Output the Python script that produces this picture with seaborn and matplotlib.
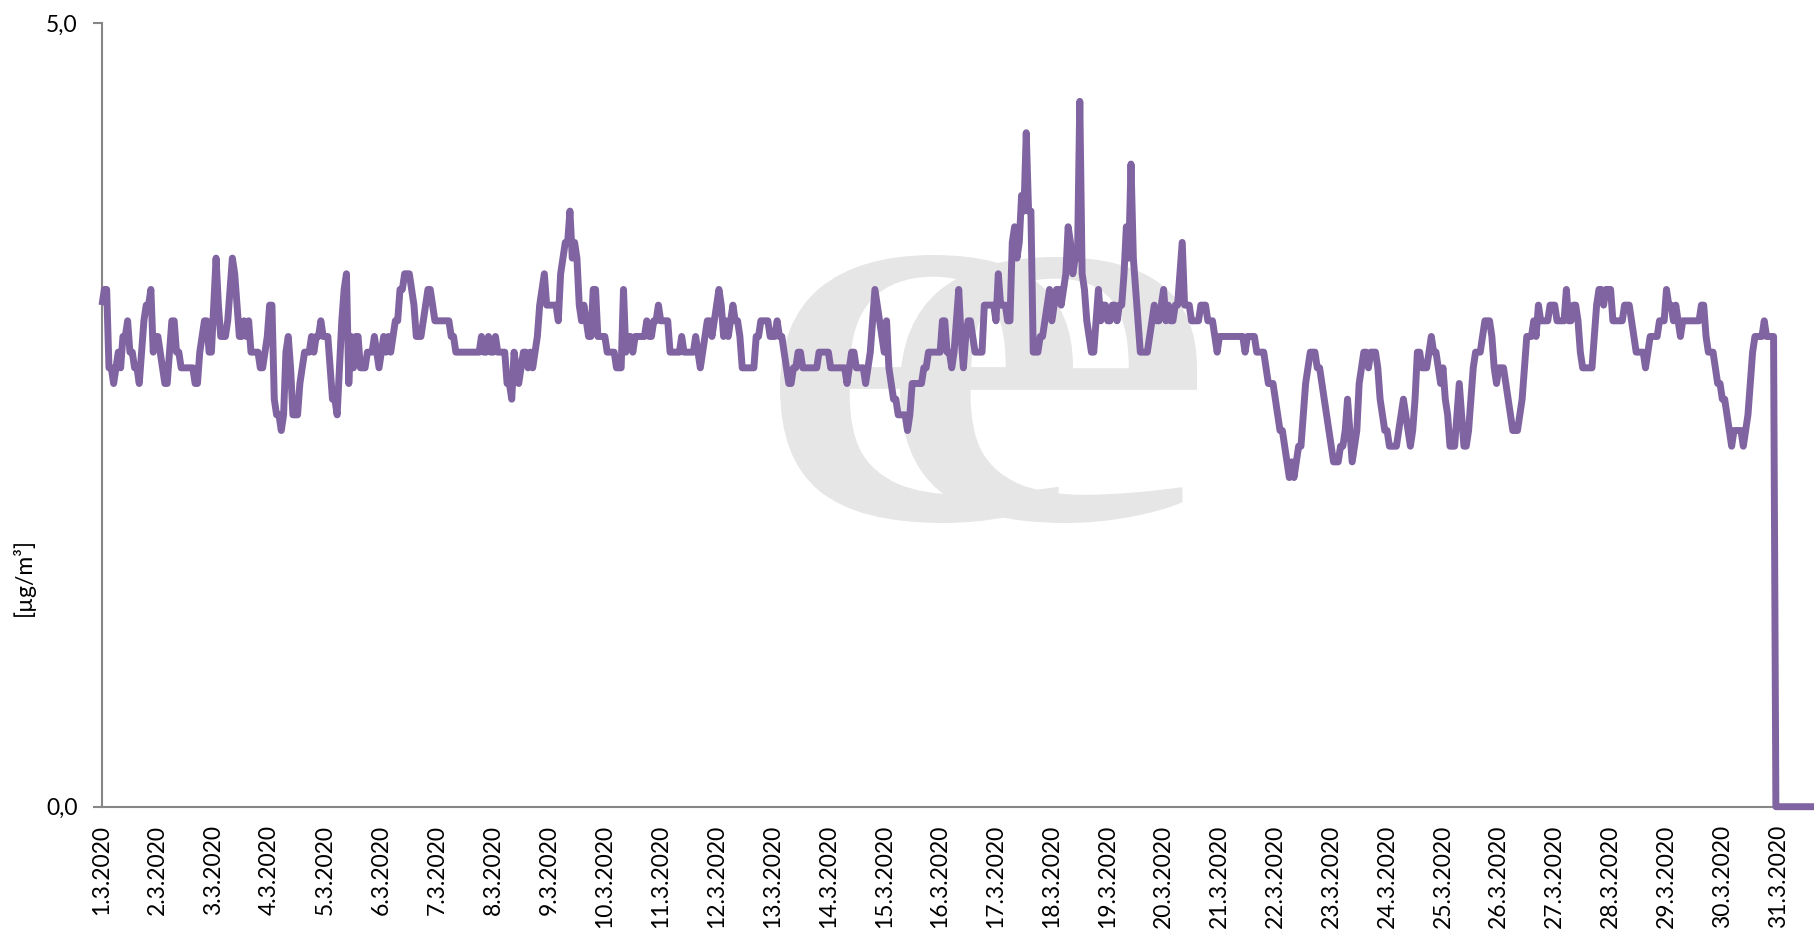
import numpy as np
import pandas as pd
import matplotlib
matplotlib.use("Agg")
import matplotlib.pyplot as plt
import seaborn as sns
from matplotlib.textpath import TextPath
from matplotlib.font_manager import FontProperties
from matplotlib.patches import PathPatch
from matplotlib.transforms import Affine2D

# hourly concentrations [ug/m3], March 2020, one row = one day (24 h)
conc_01_07 = [
    3.2, 3.3, 3.3, 2.8, 2.8, 2.7, 2.8, 2.9, 2.8, 3.0, 3.0, 3.1, 2.9, 2.9, 2.8, 2.8, 2.7, 2.9, 3.1, 3.2, 3.2, 3.3, 2.9, 3.0,
    3.0, 2.9, 2.8, 2.7, 2.7, 2.9, 3.1, 3.1, 2.9, 2.9, 2.8, 2.8, 2.8, 2.8, 2.8, 2.8, 2.7, 2.7, 2.9, 3.0, 3.1, 3.1, 2.9, 2.9,
    3.2, 3.5, 3.2, 3.0, 3.0, 3.0, 3.1, 3.3, 3.5, 3.4, 3.2, 3.0, 3.0, 3.1, 3.0, 3.1, 2.9, 2.9, 2.9, 2.9, 2.8, 2.8, 2.9, 3.0,
    3.2, 3.2, 2.6, 2.5, 2.5, 2.4, 2.5, 2.9, 3.0, 2.8, 2.5, 2.5, 2.5, 2.7, 2.8, 2.9, 2.9, 2.9, 3.0, 2.9, 3.0, 3.0, 3.1, 3.0,
    3.0, 3.0, 2.8, 2.6, 2.6, 2.5, 2.8, 3.1, 3.3, 3.4, 2.7, 3.0, 2.8, 3.0, 3.0, 2.8, 2.8, 2.8, 2.9, 2.9, 2.9, 3.0, 2.9, 2.8,
    2.9, 3.0, 2.9, 3.0, 2.9, 3.0, 3.1, 3.1, 3.3, 3.3, 3.4, 3.4, 3.4, 3.3, 3.2, 3.0, 3.0, 3.0, 3.1, 3.2, 3.3, 3.3, 3.2, 3.1,
    3.1, 3.1, 3.1, 3.1, 3.1, 3.1, 3.0, 3.0, 2.9, 2.9, 2.9, 2.9, 2.9, 2.9, 2.9, 2.9, 2.9, 2.9, 2.9, 3.0, 2.9, 2.9, 3.0, 2.9,
]
conc_08_14 = [
    2.9, 3.0, 2.9, 2.9, 2.9, 2.9, 2.7, 2.7, 2.6, 2.9, 2.8, 2.7, 2.8, 2.9, 2.9, 2.8, 2.9, 2.8, 2.9, 3.0, 3.2, 3.3, 3.4, 3.2,
    3.2, 3.2, 3.2, 3.2, 3.1, 3.4, 3.5, 3.6, 3.6, 3.8, 3.5, 3.6, 3.5, 3.2, 3.1, 3.2, 3.1, 3.0, 3.0, 3.3, 3.3, 3.0, 3.0, 3.0,
    3.0, 2.9, 2.9, 2.9, 2.9, 2.8, 2.8, 2.8, 3.3, 2.9, 3.0, 3.0, 2.9, 3.0, 3.0, 3.0, 3.0, 3.0, 3.1, 3.0, 3.0, 3.1, 3.1, 3.2,
    3.1, 3.1, 3.1, 3.1, 2.9, 2.9, 2.9, 2.9, 2.9, 3.0, 2.9, 2.9, 2.9, 2.9, 2.9, 3.0, 2.9, 2.8, 2.9, 3.0, 3.1, 3.1, 3.0, 3.1,
    3.2, 3.3, 3.2, 3.0, 3.1, 3.0, 3.1, 3.2, 3.1, 3.1, 3.0, 2.8, 2.8, 2.8, 2.8, 2.8, 2.8, 3.0, 3.0, 3.1, 3.1, 3.1, 3.1, 3.0,
    3.0, 3.0, 3.1, 3.0, 3.0, 2.9, 2.8, 2.7, 2.7, 2.8, 2.8, 2.9, 2.9, 2.8, 2.8, 2.8, 2.8, 2.8, 2.8, 2.8, 2.9, 2.9, 2.9, 2.9,
    2.9, 2.8, 2.8, 2.8, 2.8, 2.8, 2.8, 2.8, 2.7, 2.8, 2.9, 2.9, 2.8, 2.8, 2.8, 2.8, 2.7, 2.8, 2.9, 3.1, 3.3, 3.2, 3.1, 3.0,
]
conc_15_21 = [
    2.9, 3.1, 2.8, 2.7, 2.6, 2.6, 2.5, 2.5, 2.5, 2.5, 2.4, 2.5, 2.7, 2.7, 2.7, 2.7, 2.7, 2.8, 2.8, 2.9, 2.9, 2.9, 2.9, 2.9,
    2.9, 3.1, 3.1, 2.9, 2.9, 2.8, 2.9, 3.1, 3.3, 3.0, 2.8, 3.0, 3.1, 3.1, 3.0, 2.9, 2.9, 2.9, 2.9, 3.2, 3.2, 3.2, 3.2, 3.2,
    3.1, 3.4, 3.2, 3.2, 3.2, 3.1, 3.1, 3.6, 3.7, 3.5, 3.6, 3.9, 3.8, 4.3, 3.8, 3.8, 2.9, 2.9, 2.9, 3.0, 3.0, 3.1, 3.2, 3.3,
    3.1, 3.2, 3.3, 3.3, 3.2, 3.3, 3.4, 3.7, 3.6, 3.4, 3.5, 3.5, 4.5, 3.4, 3.3, 3.1, 3.0, 2.9, 2.9, 3.1, 3.3, 3.1, 3.2, 3.2,
    3.1, 3.1, 3.2, 3.2, 3.1, 3.2, 3.2, 3.4, 3.7, 3.5, 4.1, 3.5, 3.3, 3.1, 2.9, 2.9, 2.9, 2.9, 3.0, 3.1, 3.2, 3.1, 3.1, 3.2,
    3.3, 3.1, 3.2, 3.1, 3.1, 3.2, 3.2, 3.4, 3.6, 3.2, 3.2, 3.2, 3.1, 3.1, 3.1, 3.1, 3.2, 3.2, 3.2, 3.1, 3.1, 3.1, 3.0, 2.9,
    3.0, 3.0, 3.0, 3.0, 3.0, 3.0, 3.0, 3.0, 3.0, 3.0, 3.0, 2.9, 3.0, 3.0, 3.0, 3.0, 2.9, 2.9, 2.9, 2.9, 2.8, 2.7, 2.7, 2.7,
]
conc_22_28 = [
    2.6, 2.5, 2.4, 2.4, 2.3, 2.2, 2.1, 2.2, 2.1, 2.2, 2.3, 2.3, 2.5, 2.7, 2.8, 2.9, 2.9, 2.9, 2.8, 2.8, 2.7, 2.6, 2.5, 2.4,
    2.3, 2.2, 2.2, 2.2, 2.3, 2.3, 2.4, 2.6, 2.4, 2.2, 2.3, 2.4, 2.7, 2.8, 2.9, 2.9, 2.8, 2.9, 2.9, 2.9, 2.8, 2.6, 2.5, 2.4,
    2.4, 2.3, 2.3, 2.3, 2.3, 2.4, 2.5, 2.6, 2.5, 2.4, 2.3, 2.4, 2.6, 2.9, 2.9, 2.8, 2.8, 2.8, 2.9, 3.0, 2.9, 2.9, 2.8, 2.7,
    2.8, 2.6, 2.5, 2.3, 2.3, 2.3, 2.5, 2.7, 2.5, 2.3, 2.3, 2.4, 2.6, 2.8, 2.9, 2.9, 2.9, 3.0, 3.1, 3.1, 3.1, 3.0, 2.8, 2.7,
    2.8, 2.8, 2.8, 2.7, 2.6, 2.5, 2.4, 2.4, 2.4, 2.5, 2.6, 2.8, 3.0, 3.0, 3.0, 3.1, 3.0, 3.2, 3.1, 3.1, 3.1, 3.1, 3.2, 3.2,
    3.2, 3.1, 3.1, 3.1, 3.1, 3.3, 3.1, 3.1, 3.2, 3.2, 3.1, 2.9, 2.8, 2.8, 2.8, 2.8, 2.8, 3.0, 3.2, 3.3, 3.3, 3.2, 3.3, 3.3,
    3.3, 3.1, 3.1, 3.1, 3.1, 3.1, 3.2, 3.2, 3.2, 3.1, 3.0, 2.9, 2.9, 2.9, 2.9, 2.8, 2.9, 3.0, 3.0, 3.0, 3.0, 3.1, 3.1, 3.1,
]
conc_29_31 = [
    3.3, 3.2, 3.2, 3.1, 3.2, 3.1, 3.0, 3.1, 3.1, 3.1, 3.1, 3.1, 3.1, 3.1, 3.1, 3.2, 3.2, 3.0, 2.9, 2.9, 2.9, 2.8, 2.7, 2.7,
    2.6, 2.6, 2.5, 2.4, 2.3, 2.4, 2.4, 2.4, 2.4, 2.3, 2.4, 2.5, 2.7, 2.9, 3.0, 3.0, 3.0, 3.0, 3.1, 3.0, 3.0, 3.0, 3.0, 0.0,
    0.0, 0.0, 0.0, 0.0, 0.0, 0.0, 0.0, 0.0, 0.0, 0.0, 0.0, 0.0, 0.0, 0.0, 0.0, 0.0, 0.0, 0.0, 0.0, 0.0, 0.0, 0.0, 0.0, 0.0,
]
days = list(range(1, 32))
day_labels = [f"{d}.3.2020" for d in days]

values = conc_01_07 + conc_08_14 + conc_15_21 + conc_22_28 + conc_29_31
df = pd.DataFrame({"hour": np.arange(len(values)), "conc": values})

sns.set_style("white")
plt.rcParams['font.family'] = ['Lato', 'DejaVu Sans']

W, H = 1815, 933
fig = plt.figure(figsize=(W / 100, H / 100), dpi=100)
ax = fig.add_axes([102 / W, (H - 806.7) / H, (W - 102) / W, 783.7 / H])


def watermark_e(box):
    # light grey "e" of the logo, stretched into a pixel box (x0, y0, x1, y1)
    fp = FontProperties(family='Liberation Serif')
    tp = TextPath((0, 0), 'e', size=1, prop=fp)
    bb = tp.get_extents()
    x0, y0, x1, y1 = box
    fx0, fx1 = x0 / W, x1 / W
    fy0, fy1 = 1 - y1 / H, 1 - y0 / H
    tr = (Affine2D().translate(-bb.x0, -bb.y0)
          .scale((fx1 - fx0) / bb.width, (fy1 - fy0) / bb.height)
          .translate(fx0, fy0)) + fig.transFigure
    patch = PathPatch(tp, transform=tr, facecolor='#e6e6e6', edgecolor='none',
                      zorder=0.5, clip_on=False)
    ax.add_patch(patch)


watermark_e((780, 255, 1073, 523))
watermark_e((900, 257, 1197, 523))

sns.lineplot(data=df, x="hour", y="conc", ax=ax, color='#8064A2', linewidth=5,
             solid_joinstyle='round', solid_capstyle='butt', clip_on=False, zorder=3)
for ln in ax.get_lines():
    ln.set_linewidth(5)

ax.set_xlim(0, 735.8)
ax.set_ylim(0, 5)
ax.set_xticks([(d - 1) * 24 for d in days])
ax.set_xticklabels(day_labels, rotation=90)
ax.set_yticks([0, 5])
ax.set_yticklabels(["0,0", "5,0"])
ax.set_xlabel("")
ax.set_ylabel("")

ax.tick_params(axis='x', length=0, pad=13, labelsize=16.5, labelcolor='black')
ax.tick_params(axis='y', length=6.5, width=1.5, color='#868686', pad=11,
               labelsize=16.5, labelcolor='black', left=True)

for side in ['top', 'right']:
    ax.spines[side].set_visible(False)
for side in ['left', 'bottom']:
    ax.spines[side].set_color('#868686')
    ax.spines[side].set_linewidth(1.5)
ax.grid(False)

fig.text(23 / W, 1 - 577 / H, "[µg/m³]", rotation=90, ha='center', va='center',
         fontsize=16.5, color='black')

fig.savefig("out.png", dpi=100, facecolor='white')
